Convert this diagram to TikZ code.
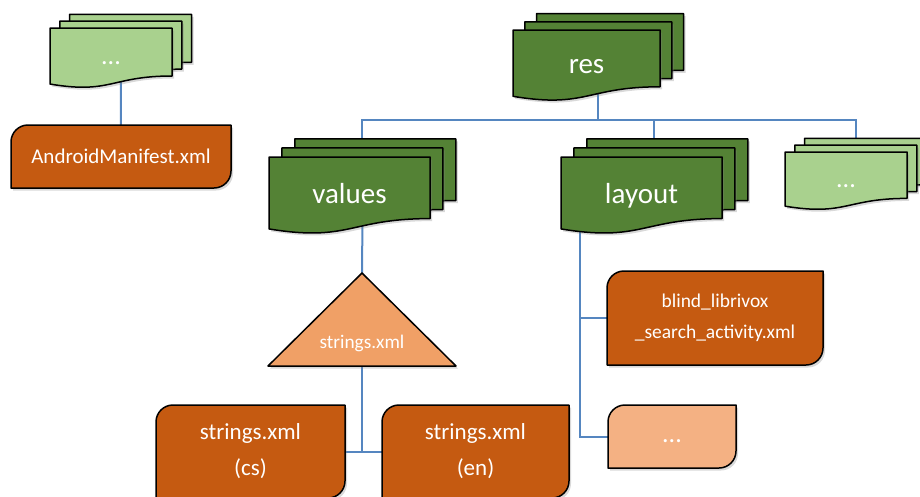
\documentclass[tikz,border=0pt]{standalone}
\usepackage{fontspec}
\setmainfont{Carlito}
\usetikzlibrary{backgrounds,shadows}

\definecolor{resgreen}{HTML}{548235}
\definecolor{palegreen}{HTML}{A9D18E}
\definecolor{fileorange}{HTML}{C55A11}
\definecolor{triorange}{HTML}{F0A066}
\definecolor{paleorange}{HTML}{F4B183}
\definecolor{linkblue}{HTML}{5586C0}

% stack of three wavy sheets: style, name, x, y, width, height, text
\newcommand\multidoc[7]{%
  \pgfmathsetmacro\ddx{0.08*#5}
  \pgfmathsetmacro\ddy{0.056*#5}
  \foreach \i in {2,1,0}{
    \pgfmathsetmacro\sx{#3+\i*\ddx}
    \pgfmathsetmacro\sy{#4-\i*\ddy}
    \draw[sheet,#1] (\sx,\sy) -- (\sx+#5,\sy) -- (\sx+#5,\sy+0.8*#6)
      .. controls (\sx+0.5*#5,\sy+0.8*#6) and (\sx+0.5*#5,\sy+1.107*#6) .. (\sx,\sy+0.934*#6) -- cycle;
  }
  \coordinate (#2) at ({#3+0.5*#5+\ddx},{#4+0.45*#6});
  \node[label text] (#2-text) at ({#3+0.5*#5},{#4+0.51*#6}) {#7};
}

% box with rounded top left and bottom right corners: style, font, name, x1, y1, x2, y2, text
\newcommand\filebox[8]{%
  \draw[sheet,#1] (#4,#5+17) .. controls (#4,#5+7.6) and (#4+7.6,#5) .. (#4+17,#5) -- (#6,#5) -- (#6,#7-17)
    .. controls (#6,#7-7.6) and (#6-7.6,#7) .. (#6-17,#7) -- (#4,#7) -- cycle;
  \node[label text,align=center,font=#2] (#3) at ({(#4+#6)/2},{(#5+#7)/2}) {#8};
}

\newcommand\foldersize{\fontsize{29}{34}\selectfont}
\newcommand\dotsize{\fontsize{26}{30}\selectfont}

\begin{document}
\begin{tikzpicture}[x=1pt,y=-1pt,line join=round,
                    sheet/.style={draw=black,line width=1.5pt,
                      drop shadow={shadow xshift=2pt,shadow yshift=-2.5pt,opacity=0.3}},
                    dark/.style={fill=resgreen},
                    pale/.style={fill=palegreen},
                    file/.style={fill=fileorange}]

  \tikzstyle{label text}=[text=white,inner sep=2pt]
  \tikzstyle{link}=[draw=linkblue,line width=2pt]

  \useasboundingbox (0,0) rectangle (920,496);

  \multidoc{pale}{other}{50}{28}{122}{60}{\dotsize\strut ...}
  \multidoc{dark}{res}{513}{30}{147}{71}{\foldersize\strut res}
  \multidoc{dark}{values}{269}{157}{161}{77}{\foldersize\strut values}
  \multidoc{dark}{layout}{561}{157}{161}{77}{\foldersize\strut layout}
  \multidoc{pale}{more}{785}{152}{122}{58}{\dotsize\strut ...}

  \filebox{file}{\fontsize{21}{26}\selectfont}{manifest}{11}{125}{231}{188}{AndroidManifest.xml}
  \filebox{file}{\fontsize{19.5}{31}\selectfont}{blind}{607}{271}{823}{365}{blind\_librivox\\\_search\_activity.xml}
  \filebox{fill=paleorange}{\dotsize}{dots}{608}{405}{736}{468}{\strut ...}
  \filebox{file}{\fontsize{23}{36}\selectfont}{cs}{156}{405}{345}{498}{strings.xml\\(cs)}
  \filebox{file}{\fontsize{23}{36}\selectfont}{en}{382}{405}{569}{498}{strings.xml\\(en)}

  \draw[sheet,fill=triorange] (362,273) -- (456,366) -- (268,366) -- cycle;
  \node[label text,font=\fontsize{19.3}{23}\selectfont] (strings) at (362,343) {strings.xml};

  \begin{scope}[on background layer]
    \coordinate (bus) at (res |- 0,120);
    \coordinate (stem) at (580,200);
    \draw[link] (other) -- (manifest);
    \draw[link] (res) -- (bus);
    \draw[link] (values) |- (bus);
    \draw[link] (layout) |- (bus);
    \draw[link] (more) |- (bus);
    \draw[link] (values) -- (strings);
    \draw[link] (strings) |- (cs);
    \draw[link] (strings) |- (en);
    \draw[link] (stem) |- (blind);
    \draw[link] (stem) |- (dots);
  \end{scope}
\end{tikzpicture}
\end{document}
